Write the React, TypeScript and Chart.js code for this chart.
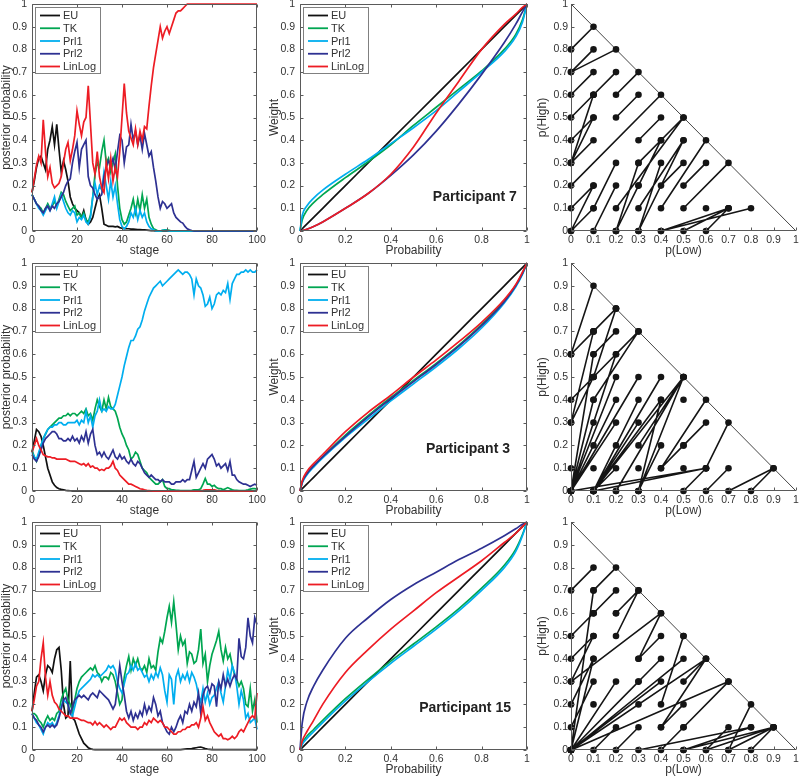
import React, { useEffect, useRef } from 'react';
import { Chart, registerables } from 'chart.js';
Chart.register(...registerables);

const FONT = "'Liberation Sans', Arial, Helvetica, sans-serif";
const TEXT = '#333333';
const AXIS = '#5a5a5a';

// ---------------- shared categories / ticks ----------------
const modelNames = ['EU', 'TK', 'Prl1', 'Prl2', 'LinLog'];
const modelColors = ['#111111', '#00a651', '#00aeef', '#2e3192', '#ed1c24'];

const stageTicks = [0, 20, 40, 60, 80, 100];
const stageTickLabels = ['0', '20', '40', '60', '80', '100'];
const probTicks = [0, 0.2, 0.4, 0.6, 0.8, 1];
const probTickLabels = ['0', '0.2', '0.4', '0.6', '0.8', '1'];
const tenthTicks = [0, 0.1, 0.2, 0.3, 0.4, 0.5, 0.6, 0.7, 0.8, 0.9, 1];
const tenthTickLabels = ['0', '0.1', '0.2', '0.3', '0.4', '0.5', '0.6', '0.7', '0.8', '0.9', '1'];

const stages = Array.from({ length: 101 }, (_, i) => i);

// ---------------- posterior probabilities (column 1) ----------------
// Participant 7
const p7EU = [
  .17, .22, .28, .32, .33, .30, .27, .36, .40, .46,
  .38, .47, .36, .26, .31, .27, .22, .15, .12, .10,
  .09, .08, .06, .09, .05, .03, .04, .06, .10, .14,
  .16, .10, .03, .025, .02, .02, .02, .018, .02, .015,
  .012, .01, .01, .01, .008, .008, .007, .006, .006, .005,
  .005, .004, .003, .002, .001, 0, 0, 0, 0, 0,
  0, 0, 0, 0, 0, 0, 0, 0, 0, 0,
  0, 0, 0, 0, 0, 0, 0, 0, 0, 0,
  0, 0, 0, 0, 0, 0, 0, 0, 0, 0,
  0, 0, 0, 0, 0, 0, 0, 0, 0, 0, 0,
];
const p7TK = [
  .16, .14, .12, .11, .10, .08, .10, .12, .10, .11,
  .13, .11, .14, .17, .16, .13, .11, .09, .10, .11,
  .07, .08, .06, .08, .05, .04, .07, .15, .25, .30,
  .28, .35, .40, .30, .32, .26, .30, .34, .20, .10,
  .05, .03, .04, .07, .10, .14, .08, .14, .09, .16,
  .10, .14, .06, .03, .01, .005, 0, 0, .003, .005,
  .005, .003, 0, 0, 0, 0, 0, 0, 0, 0,
  0, 0, 0, 0, 0, 0, 0, 0, 0, 0,
  0, 0, 0, 0, 0, 0, 0, 0, 0, 0,
  0, 0, 0, 0, 0, 0, 0, 0, 0, 0, 0,
];
const p7Prl1 = [
  .16, .14, .12, .10, .09, .07, .09, .11, .09, .12,
  .15, .10, .13, .16, .13, .10, .08, .07, .09, .08,
  .04, .06, .05, .07, .04, .03, .06, .15, .21, .16,
  .20, .18, .26, .20, .14, .22, .15, .20, .12, .05,
  .02, .01, .02, .04, .08, .06, .10, .05, .09, .06,
  .08, .04, .02, .01, .005, 0, 0, 0, .003, .003,
  .003, 0, 0, 0, 0, 0, 0, 0, 0, 0,
  0, 0, 0, 0, 0, 0, 0, 0, 0, 0,
  0, 0, 0, 0, 0, 0, 0, 0, 0, 0,
  0, 0, 0, 0, 0, 0, 0, 0, 0, 0, 0,
];
const p7Prl2 = [
  .16, .14, .12, .11, .09, .08, .10, .11, .09, .11,
  .10, .12, .13, .15, .17, .20, .22, .23, .30, .35,
  .39, .28, .36, .38, .40, .24, .20, .19, .16, .14,
  .15, .16, .24, .28, .31, .29, .32, .27, .35, .42,
  .40, .30, .37, .38, .47, .40, .44, .38, .42, .36,
  .43, .38, .33, .35, .28, .22, .15, .10, .13, .12,
  .10, .11, .12, .08, .06, .05, .04, .035, .02, .01,
  .005, .002, 0, 0, 0, 0, 0, 0, 0, 0,
  0, 0, 0, 0, 0, 0, 0, 0, 0, 0,
  0, 0, 0, 0, 0, 0, 0, 0, 0, 0, 0,
];
const p7LinLog = [
  .17, .23, .29, .33, .30, .49, .35, .24, .28, .21,
  .19, .20, .21, .24, .30, .36, .39, .31, .36, .42,
  .53, .47, .42, .48, .50, .64, .47, .30, .25, .35,
  .24, .19, .17, .30, .23, .32, .22, .28, .24, .35,
  .50, .65, .52, .44, .41, .38, .45, .38, .44, .40,
  .46, .45, .55, .64, .72, .78, .84, .90, .85, .88,
  .90, .87, .90, .93, .96, .97, .97, .98, .99, 1,
  1, 1, 1, 1, 1, 1, 1, 1, 1, 1,
  1, 1, 1, 1, 1, 1, 1, 1, 1, 1,
  1, 1, 1, 1, 1, 1, 1, 1, 1, 1, 1,
];

// Participant 3
const p3EU = [
  .17, .22, .27, .26, .24, .20, .15, .10, .07, .04,
  .025, .015, .01, .007, .005, .003, .002, .001, 0, 0,
  0, 0, 0, 0, 0, 0, 0, 0, 0, 0,
  0, 0, 0, 0, 0, 0, 0, 0, 0, 0,
  0, 0, 0, 0, 0, 0, 0, 0, 0, 0,
  0, 0, 0, 0, 0, 0, 0, 0, 0, 0,
  0, 0, 0, 0, 0, 0, 0, 0, 0, 0,
  0, 0, 0, 0, 0, 0, 0, 0, 0, 0,
  0, 0, 0, 0, 0, 0, 0, 0, 0, 0,
  0, 0, 0, 0, 0, 0, 0, 0, 0, 0, 0,
];
const p3TK = [
  .18, .15, .13, .16, .20, .23, .25, .27, .28, .29,
  .30, .31, .32, .32, .33, .33, .34, .33, .34, .34,
  .33, .34, .35, .34, .36, .33, .34, .31, .36, .40,
  .37, .35, .40, .36, .41, .37, .36, .35, .32, .28,
  .25, .23, .20, .18, .14, .15, .17, .16, .13, .10,
  .09, .08, .06, .05, .04, .03, .03, .04, .05, .02,
  .01, .01, .005, .005, .003, .003, .002, .002, .002, .002,
  .002, .003, .005, .005, .005, .01, .03, .055, .03, .03,
  .02, .025, .015, .01, .01, .005, .01, .015, .01, .005,
  .003, .003, .002, .002, .002, .003, .005, .008, .01, .01, .008,
];
const p3Prl1 = [
  .17, .15, .14, .17, .20, .23, .25, .27, .28, .28,
  .29, .29, .30, .30, .29, .29, .30, .30, .30, .30,
  .31, .29, .31, .30, .35, .30, .33, .28, .33, .35,
  .40, .35, .36, .35, .37, .36, .36, .38, .42, .46,
  .50, .55, .59, .63, .66, .66, .68, .71, .72, .75,
  .79, .82, .85, .87, .89, .90, .91, .92, .90, .91,
  .92, .93, .94, .95, .96, .97, .96, .95, .96, .96,
  .95, .93, .86, .93, .90, .89, .86, .81, .82, .85,
  .80, .82, .86, .87, .86, .88, .87, .91, .84, .91,
  .93, .95, .95, .96, .96, .97, .96, .97, .96, .96, .97,
];
const p3Prl2 = [
  .16, .14, .13, .15, .18, .21, .23, .24, .25, .26,
  .26, .25, .23, .23, .22, .22, .23, .22, .24, .22,
  .23, .21, .24, .22, .26, .21, .25, .27, .20, .16,
  .17, .15, .17, .15, .14, .16, .18, .15, .14, .16,
  .14, .15, .13, .12, .14, .12, .11, .13, .12, .10,
  .08, .07, .06, .07, .06, .05, .05, .04, .05, .04,
  .04, .04, .03, .03, .04, .04, .04, .05, .04, .05,
  .05, .09, .13, .06, .08, .10, .12, .10, .14, .15,
  .16, .14, .11, .12, .10, .11, .12, .09, .13, .07,
  .07, .05, .04, .035, .03, .03, .025, .02, .025, .03, .025,
];
const p3LinLog = [
  .17, .20, .23, .20, .18, .16, .155, .15, .15, .145,
  .145, .14, .14, .14, .14, .14, .135, .13, .13, .13,
  .125, .12, .115, .12, .11, .12, .105, .11, .10, .10,
  .09, .095, .09, .10, .10, .11, .13, .10, .09, .07,
  .06, .05, .04, .03, .03, .025, .02, .015, .01, .008,
  .005, .003, .002, .001, 0, 0, 0, 0, 0, 0,
  0, 0, 0, 0, 0, 0, 0, 0, 0, 0,
  0, 0, 0, 0, 0, .002, .003, .005, .005, .005,
  .005, .005, .003, .002, 0, 0, 0, 0, 0, 0,
  0, 0, 0, 0, 0, 0, 0, 0, 0, 0, 0,
];

// Participant 15
const p15EU = [
  .17, .25, .32, .33, .30, .26, .33, .37, .36, .34,
  .40, .44, .45, .35, .20, .14, .15, .39, .14, .13,
  .10, .07, .05, .03, .02, .01, .005, .003, .002, .002,
  .002, .002, .002, .002, .002, .002, .002, .002, .002, .002,
  .002, .002, .002, .002, .002, .002, .002, .002, .002, .002,
  .002, .002, .002, .002, .002, .002, .002, .002, .002, .002,
  .002, .002, .002, .002, .002, .002, .002, .003, .004, .005,
  .005, .006, .008, .01, .012, .013, .01, .006, .004, .003,
  .002, .002, .002, .002, .002, .002, .002, .002, .002, .002,
  .002, .002, .002, .002, .002, .002, .002, .002, .002, .002, .002,
];
const p15TK = [
  .16, .16, .15, .13, .12, .10, .13, .15, .13, .14,
  .13, .16, .17, .22, .25, .27, .22, .20, .17, .22,
  .27, .30, .32, .33, .34, .35, .36, .35, .37, .34,
  .33, .30, .32, .32, .31, .34, .33, .30, .25, .20,
  .22, .32, .37, .41, .35, .40, .37, .40, .36, .35,
  .37, .34, .40, .36, .37, .35, .43, .49, .47, .52,
  .58, .63, .56, .65, .55, .44, .50, .46, .48, .38,
  .43, .42, .38, .39, .44, .53, .38, .42, .30, .37,
  .42, .45, .48, .52, .44, .39, .45, .40, .42, .37,
  .33, .31, .28, .30, .27, .20, .19, .27, .17, .22, .12,
];
const p15Prl1 = [
  .16, .14, .12, .11, .09, .07, .10, .12, .11, .12,
  .10, .12, .15, .19, .22, .21, .20, .16, .15, .19,
  .23, .26, .27, .28, .29, .30, .31, .33, .32, .33,
  .32, .33, .34, .35, .37, .36, .37, .35, .30, .27,
  .25, .29, .33, .34, .37, .35, .38, .35, .36, .34,
  .32, .33, .30, .33, .31, .34, .32, .36, .33, .26,
  .21, .33, .31, .20, .32, .35, .30, .33, .31, .34,
  .30, .34, .32, .29, .24, .21, .27, .21, .25, .20,
  .23, .24, .27, .30, .25, .21, .28, .35, .31, .37,
  .34, .28, .20, .26, .22, .14, .16, .12, .13, .14, .09,
];
const p15Prl2 = [
  .16, .14, .13, .11, .10, .08, .10, .11, .10, .11,
  .10, .11, .14, .18, .22, .23, .20, .16, .19, .22,
  .23, .24, .23, .24, .23, .22, .24, .25, .24, .23,
  .26, .25, .24, .23, .22, .20, .18, .20, .28, .37,
  .30, .24, .17, .14, .17, .13, .16, .14, .17, .15,
  .20, .16, .19, .17, .23, .20, .15, .17, .12, .10,
  .08, .07, .10, .08, .10, .13, .15, .12, .17, .16,
  .20, .17, .21, .19, .25, .16, .24, .27, .28, .25,
  .29, .28, .19, .30, .27, .33, .28, .31, .28, .31,
  .33, .31, .49, .41, .40, .45, .58, .50, .47, .58, .55,
];
const p15LinLog = [
  .17, .22, .28, .30, .40, .47, .32, .24, .30, .24,
  .21, .20, .18, .17, .16, .15, .15, .14, .14, .14,
  .14, .135, .13, .13, .125, .12, .12, .11, .125, .11,
  .12, .11, .10, .11, .10, .09, .10, .10, .12, .14,
  .13, .14, .12, .11, .10, .10, .10, .09, .10, .10,
  .12, .11, .13, .12, .14, .13, .12, .13, .12, .10,
  .10, .09, .08, .07, .07, .08, .08, .09, .09, .10,
  .10, .11, .11, .12, .10, .14, .19, .13, .15, .12,
  .10, .08, .07, .06, .07, .05, .05, .045, .05, .06,
  .05, .06, .08, .09, .08, .10, .12, .14, .15, .14, .25,
];

// ---------------- weighting functions (column 2) ----------------
const probs = [0, 0.01, 0.03, 0.06, 0.1, 0.2, 0.3, 0.4, 0.5, 0.6, 0.7, 0.8, 0.9, 0.95, 0.98, 1];
const euWeight = [0, 0.01, 0.03, 0.06, 0.1, 0.2, 0.3, 0.4, 0.5, 0.6, 0.7, 0.8, 0.9, 0.95, 0.98, 1];

const w7TK = [0, 0.05, 0.09, 0.125, 0.16, 0.235, 0.305, 0.38, 0.465, 0.545, 0.625, 0.705, 0.80, 0.865, 0.93, 1];
const w7Prl1 = [0, 0.07, 0.11, 0.145, 0.18, 0.25, 0.315, 0.385, 0.455, 0.53, 0.615, 0.70, 0.79, 0.855, 0.92, 1];
const w7Prl2 = [0, 0.002, 0.008, 0.02, 0.04, 0.10, 0.165, 0.245, 0.335, 0.44, 0.56, 0.69, 0.83, 0.91, 0.965, 1];
const w7LinLog = [0, 0.002, 0.008, 0.02, 0.04, 0.10, 0.165, 0.25, 0.37, 0.52, 0.66, 0.80, 0.91, 0.955, 0.985, 1];

const w3TK = [0, 0.04, 0.075, 0.11, 0.15, 0.245, 0.33, 0.41, 0.485, 0.56, 0.64, 0.73, 0.835, 0.9, 0.955, 1];
const w3Prl1 = [0, 0.035, 0.07, 0.105, 0.145, 0.235, 0.315, 0.395, 0.47, 0.545, 0.625, 0.715, 0.825, 0.895, 0.95, 1];
const w3Prl2 = [0, 0.04, 0.075, 0.11, 0.15, 0.24, 0.325, 0.405, 0.48, 0.555, 0.635, 0.725, 0.83, 0.9, 0.955, 1];
const w3LinLog = [0, 0.045, 0.085, 0.12, 0.16, 0.26, 0.345, 0.42, 0.50, 0.575, 0.655, 0.74, 0.84, 0.905, 0.96, 1];

const w15TK = [0, 0.03, 0.06, 0.09, 0.13, 0.225, 0.31, 0.39, 0.465, 0.54, 0.62, 0.71, 0.81, 0.88, 0.945, 1];
const w15Prl1 = [0, 0.025, 0.05, 0.08, 0.12, 0.215, 0.30, 0.38, 0.455, 0.53, 0.61, 0.70, 0.80, 0.87, 0.94, 1];
const w15Prl2 = [0, 0.12, 0.21, 0.28, 0.35, 0.49, 0.58, 0.66, 0.725, 0.78, 0.835, 0.885, 0.94, 0.97, 0.99, 1];
const w15LinLog = [0, 0.04, 0.08, 0.13, 0.2, 0.34, 0.44, 0.53, 0.61, 0.69, 0.76, 0.83, 0.91, 0.95, 0.98, 1];

// ---------------- choice pairs (column 3): [pLow1, pHigh1, pLow2, pHigh2] ----------------
const triangleEdgeLow = [0, 1];
const triangleEdgeHigh = [1, 0];

const p7Pairs = [
  [0, 0.8, 0.1, 0.9], [0, 0.7, 0.2, 0.8], [0, 0.7, 0.1, 0.8], [0, 0.6, 0.1, 0.7],
  [0.1, 0.6, 0.2, 0.7], [0.2, 0.6, 0.3, 0.7], [0, 0.5, 0.1, 0.6], [0, 0.3, 0.1, 0.6],
  [0, 0.3, 0.1, 0.5], [0, 0.4, 0.1, 0.5], [0, 0.3, 0.1, 0.4], [0.2, 0.5, 0.3, 0.6],
  [0, 0.2, 0.4, 0.6], [0, 0.1, 0.1, 0.2], [0, 0, 0.1, 0.2], [0, 0, 0.1, 0.1],
  [0.1, 0, 0.2, 0.2], [0.1, 0.1, 0.2, 0.3], [0.2, 0, 0.3, 0.2], [0.2, 0, 0.4, 0.4],
  [0.2, 0, 0.3, 0.3], [0.2, 0.1, 0.5, 0.5], [0.3, 0.3, 0.5, 0.5], [0.3, 0.4, 0.4, 0.5],
  [0.3, 0, 0.4, 0.3], [0.3, 0, 0.5, 0.4], [0.3, 0.1, 0.5, 0.4], [0.3, 0.2, 0.4, 0.4],
  [0.4, 0.2, 0.5, 0.3], [0.4, 0.1, 0.6, 0.4], [0.5, 0.2, 0.6, 0.3], [0.5, 0.1, 0.7, 0.3],
  [0.4, 0, 0.8, 0.1], [0.4, 0, 0.7, 0.1], [0.5, 0, 0.7, 0.1], [0.6, 0, 0.7, 0.1],
];
const p7Singles = [[0.6, 0.1]];

const p3Pairs = [
  [0, 0.6, 0.1, 0.9], [0, 0.6, 0.2, 0.8], [0, 0.6, 0.1, 0.7], [0.1, 0.7, 0.2, 0.8],
  [0, 0.3, 0.1, 0.7], [0.1, 0.5, 0.2, 0.8], [0.1, 0.6, 0.2, 0.7], [0.1, 0.5, 0.3, 0.7],
  [0.1, 0.4, 0.3, 0.7], [0, 0.4, 0.2, 0.6], [0, 0.3, 0.1, 0.5], [0, 0, 0.1, 0.4],
  [0, 0, 0.1, 0.3], [0, 0, 0.1, 0.2], [0, 0, 0.2, 0.5], [0, 0, 0.2, 0.4],
  [0, 0, 0.2, 0.3], [0, 0, 0.2, 0.6], [0, 0, 0.1, 0.6], [0, 0, 0.3, 0.5],
  [0, 0, 0.6, 0.1], [0.1, 0, 0.6, 0.1], [0.1, 0, 0.5, 0.5], [0.1, 0, 0.4, 0.4],
  [0.1, 0, 0.3, 0.4], [0.1, 0, 0.4, 0.5], [0.1, 0, 0.2, 0.2], [0.1, 0, 0.3, 0.3],
  [0.1, 0, 0.2, 0.1], [0.2, 0, 0.5, 0.5], [0.3, 0, 0.5, 0.5], [0.3, 0, 0.4, 0.4],
  [0.3, 0.2, 0.5, 0.5], [0.3, 0, 0.4, 0.2], [0.4, 0.1, 0.6, 0.4], [0.4, 0.1, 0.5, 0.2],
  [0.5, 0.2, 0.6, 0.3], [0.5, 0, 0.6, 0.1], [0.6, 0.1, 0.7, 0.3], [0.6, 0, 0.7, 0.1],
  [0.7, 0, 0.9, 0.1], [0.8, 0, 0.9, 0.1],
];
const p3Singles = [[0, 0.1], [0.1, 0.1], [0.3, 0.1], [0.5, 0.1], [0.5, 0.4], [0.2, 0]];

const p15Pairs = [
  [0, 0.7, 0.1, 0.8], [0.1, 0.7, 0.2, 0.8], [0, 0, 0.1, 0.7], [0, 0.5, 0.1, 0.6],
  [0.1, 0.6, 0.2, 0.7], [0.2, 0.6, 0.3, 0.7], [0.2, 0.5, 0.3, 0.7], [0, 0.4, 0.1, 0.5],
  [0, 0.3, 0.1, 0.5], [0, 0.3, 0.4, 0.6], [0, 0.2, 0.1, 0.4], [0, 0.1, 0.1, 0.3],
  [0, 0, 0.1, 0.4], [0, 0, 0.2, 0.3], [0, 0, 0.3, 0.3], [0, 0, 0.4, 0.4],
  [0, 0, 0.5, 0.4], [0, 0, 0.6, 0.4], [0, 0, 0.4, 0.3], [0, 0, 0.7, 0.3],
  [0, 0, 0.3, 0.2], [0.1, 0, 0.2, 0.1], [0.2, 0, 0.3, 0.1], [0.3, 0.4, 0.4, 0.6],
  [0.3, 0.4, 0.4, 0.5], [0.4, 0.2, 0.5, 0.5], [0.4, 0.1, 0.6, 0.4], [0.5, 0.3, 0.6, 0.4],
  [0.4, 0.1, 0.5, 0.2], [0.4, 0, 0.5, 0.1], [0.3, 0, 0.8, 0.1], [0.5, 0, 0.8, 0.1],
  [0.5, 0, 0.9, 0.1], [0.6, 0, 0.9, 0.1], [0.7, 0, 0.8, 0.2], [0.6, 0, 0.7, 0.1],
  [0.8, 0, 0.9, 0.1], [0.7, 0, 0.9, 0.1], [0.5, 0.1, 0.7, 0.3],
];
const p15Singles = [[0.1, 0.6], [0.2, 0.6], [0.3, 0.3], [0.1, 0.2], [0.5, 0.5]];

// ---------------- layout ----------------
const COLS = [
  { plotLeft: 32, plotW: 225, yW: 32, padR: 12 },
  { plotLeft: 300, plotW: 227, yW: 32, padR: 10 },
  { plotLeft: 571, plotW: 226, yW: 35, padR: 3 },
];
const ROWS = [
  { plotTop: 4, plotH: 227 },
  { plotTop: 263, plotH: 228 },
  { plotTop: 522, plotH: 228 },
];
const PAD_T = 6;
const X_H = 28;

type PanelCfg = {
  row: number;
  col: number;
  kind: 'series' | 'weight' | 'triangle';
  series?: number[][];
  pairs?: number[][];
  singles?: number[][];
  note?: { text: string; x: number; y: number };
};

function geom(row: number, col: number) {
  const c = COLS[col];
  const r = ROWS[row];
  return {
    left: c.plotLeft - c.yW,
    top: r.plotTop - PAD_T,
    w: c.yW + c.plotW + c.padR,
    h: PAD_T + r.plotH + X_H,
    yW: c.yW,
    padR: c.padR,
  };
}

function decorPlugin(cfg: PanelCfg, xTicks: number[], yTicks: number[]) {
  return {
    id: 'decor',
    afterDatasetsDraw(chart: any) {
      const { ctx, chartArea: a, scales } = chart;
      const xs = scales.x;
      const ys = scales.y;
      ctx.save();
      ctx.strokeStyle = AXIS;
      ctx.lineWidth = 1;
      const L = Math.round(a.left) + 0.5;
      const R = Math.round(a.right) - 0.5;
      const T = Math.round(a.top) + 0.5;
      const B = Math.round(a.bottom) - 0.5;
      const tl = 3;
      ctx.beginPath();
      if (cfg.kind === 'triangle') {
        ctx.moveTo(L, T);
        ctx.lineTo(L, B);
        ctx.lineTo(R, B);
        xTicks.forEach((v) => {
          const px = Math.round(xs.getPixelForValue(v)) + 0.5;
          ctx.moveTo(px, B);
          ctx.lineTo(px, B - tl);
        });
        yTicks.forEach((v) => {
          const py = Math.round(ys.getPixelForValue(v)) + 0.5;
          ctx.moveTo(L, py);
          ctx.lineTo(L + tl, py);
        });
      } else {
        ctx.rect(L, T, R - L, B - T);
        xTicks.forEach((v) => {
          const px = Math.round(xs.getPixelForValue(v)) + 0.5;
          ctx.moveTo(px, B);
          ctx.lineTo(px, B - tl);
          ctx.moveTo(px, T);
          ctx.lineTo(px, T + tl);
        });
        yTicks.forEach((v) => {
          const py = Math.round(ys.getPixelForValue(v)) + 0.5;
          ctx.moveTo(L, py);
          ctx.lineTo(L + tl, py);
          ctx.moveTo(R, py);
          ctx.lineTo(R - tl, py);
        });
      }
      ctx.stroke();

      if (cfg.kind !== 'triangle') {
        // legend box
        const bx = Math.round(a.left) + 3;
        const by = Math.round(a.top) + 3;
        ctx.fillStyle = '#ffffff';
        ctx.fillRect(bx, by, 65, 66);
        ctx.strokeStyle = '#808080';
        ctx.lineWidth = 1;
        ctx.strokeRect(bx + 0.5, by + 0.5, 65, 66);
        ctx.font = `11px ${FONT}`;
        ctx.textBaseline = 'middle';
        ctx.textAlign = 'left';
        modelNames.forEach((n, i) => {
          const y = by + 8.5 + i * 12.75;
          ctx.strokeStyle = modelColors[i];
          ctx.lineWidth = 1.8;
          ctx.beginPath();
          ctx.moveTo(bx + 5, y);
          ctx.lineTo(bx + 25, y);
          ctx.stroke();
          ctx.fillStyle = TEXT;
          ctx.fillText(n, bx + 28, y + 0.5);
        });
      }
      if (cfg.note) {
        ctx.font = `bold 14px ${FONT}`;
        ctx.fillStyle = '#222222';
        ctx.textBaseline = 'middle';
        ctx.textAlign = 'left';
        ctx.fillText(cfg.note.text, xs.getPixelForValue(cfg.note.x), ys.getPixelForValue(cfg.note.y));
      }
      ctx.restore();
    },
  };
}

function buildConfig(cfg: PanelCfg) {
  const g = geom(cfg.row, cfg.col);
  let datasets: any[] = [];
  let xTicks = tenthTicks;
  let xLabels = tenthTickLabels;
  let xMax = 1;
  let xTitle = 'p(Low)';
  let yTitle = 'p(High)';

  if (cfg.kind === 'series') {
    xTicks = stageTicks;
    xLabels = stageTickLabels;
    xMax = 100;
    xTitle = 'stage';
    yTitle = 'posterior probability';
    datasets = (cfg.series || []).map((vals, i) => ({
      label: modelNames[i],
      data: stages.map((s, k) => ({ x: s, y: vals[k] })),
      borderColor: modelColors[i],
      borderWidth: 1.7,
      pointRadius: 0,
      tension: 0,
      fill: false,
      clip: false,
      order: modelNames.length - i,
    }));
  } else if (cfg.kind === 'weight') {
    xTicks = probTicks;
    xLabels = probTickLabels;
    xTitle = 'Probability';
    yTitle = 'Weight';
    datasets = (cfg.series || []).map((vals, i) => ({
      label: modelNames[i],
      data: probs.map((p, k) => ({ x: p, y: vals[k] })),
      borderColor: modelColors[i],
      borderWidth: 1.7,
      pointRadius: 0,
      cubicInterpolationMode: 'monotone',
      fill: false,
      clip: false,
      order: modelNames.length - i,
    }));
  } else {
    const pts: any[] = [];
    (cfg.pairs || []).forEach(([x1, y1, x2, y2]) => {
      pts.push({ x: x1, y: y1 }, { x: x2, y: y2 }, { x: x2, y: null });
    });
    datasets = [
      {
        label: 'edge',
        data: triangleEdgeLow.map((x, k) => ({ x, y: triangleEdgeHigh[k] })),
        borderColor: '#444444',
        borderWidth: 1,
        pointRadius: 0,
        clip: false,
        order: 3,
      },
      {
        label: 'pairs',
        data: pts,
        borderColor: '#151515',
        borderWidth: 1.6,
        pointRadius: 3.3,
        pointBorderWidth: 0,
        pointBackgroundColor: '#151515',
        spanGaps: false,
        tension: 0,
        clip: false,
        order: 2,
      },
      {
        label: 'singles',
        data: (cfg.singles || []).map(([x, y]) => ({ x, y })),
        showLine: false,
        borderColor: '#151515',
        pointRadius: 3.3,
        pointBorderWidth: 0,
        pointBackgroundColor: '#151515',
        clip: false,
        order: 1,
      },
    ];
  }

  const tickFont = { family: FONT, size: 10.5 };
  const titleFont = { family: FONT, size: 12, lineHeight: 1 };

  return {
    type: 'line',
    data: { datasets },
    plugins: [decorPlugin(cfg, xTicks, tenthTicks)],
    options: {
      responsive: false,
      maintainAspectRatio: false,
      animation: false,
      events: [],
      devicePixelRatio: 1,
      layout: { padding: { top: PAD_T, right: g.padR, left: 0, bottom: 0 } },
      plugins: { legend: { display: false }, tooltip: { enabled: false }, title: { display: false } },
      scales: {
        x: {
          type: 'linear',
          min: 0,
          max: xMax,
          afterBuildTicks: (s: any) => {
            s.ticks = xTicks.map((v) => ({ value: v }));
          },
          afterFit: (s: any) => {
            s.height = X_H;
            s.paddingLeft = 0;
            s.paddingRight = 0;
          },
          ticks: {
            callback: (_v: any, i: number) => xLabels[i],
            font: tickFont,
            color: TEXT,
            padding: 3,
            autoSkip: false,
            maxRotation: 0,
            minRotation: 0,
          },
          grid: { display: false, drawTicks: false },
          border: { display: false },
          title: { display: true, text: xTitle, font: titleFont, color: TEXT, padding: { top: 0, bottom: 2 } },
        },
        y: {
          type: 'linear',
          min: 0,
          max: 1,
          afterBuildTicks: (s: any) => {
            s.ticks = tenthTicks.map((v) => ({ value: v }));
          },
          afterFit: (s: any) => {
            s.width = g.yW;
            s.paddingTop = 0;
            s.paddingBottom = 0;
          },
          ticks: {
            callback: (_v: any, i: number) => tenthTickLabels[i],
            font: tickFont,
            color: TEXT,
            padding: cfg.kind === 'triangle' ? 3 : 5,
            autoSkip: false,
          },
          grid: { display: false, drawTicks: false },
          border: { display: false },
          title: { display: true, text: yTitle, font: titleFont, color: TEXT, padding: { top: 1, bottom: 0 } },
        },
      },
    },
  } as any;
}

function Panel({ cfg }: { cfg: PanelCfg }) {
  const ref = useRef<HTMLCanvasElement>(null);
  useEffect(() => {
    const chart = new Chart(ref.current as HTMLCanvasElement, buildConfig(cfg));
    return () => chart.destroy();
  }, []);
  const g = geom(cfg.row, cfg.col);
  return (
    <canvas
      ref={ref}
      width={g.w}
      height={g.h}
      style={{ position: 'absolute', left: g.left, top: g.top, width: g.w, height: g.h }}
    />
  );
}

const panels: PanelCfg[] = [
  { row: 0, col: 0, kind: 'series', series: [p7EU, p7TK, p7Prl1, p7Prl2, p7LinLog] },
  { row: 0, col: 1, kind: 'weight', series: [euWeight, w7TK, w7Prl1, w7Prl2, w7LinLog], note: { text: 'Participant 7', x: 0.585, y: 0.147 } },
  { row: 0, col: 2, kind: 'triangle', pairs: p7Pairs, singles: p7Singles },
  { row: 1, col: 0, kind: 'series', series: [p3EU, p3TK, p3Prl1, p3Prl2, p3LinLog] },
  { row: 1, col: 1, kind: 'weight', series: [euWeight, w3TK, w3Prl1, w3Prl2, w3LinLog], note: { text: 'Participant 3', x: 0.555, y: 0.182 } },
  { row: 1, col: 2, kind: 'triangle', pairs: p3Pairs, singles: p3Singles },
  { row: 2, col: 0, kind: 'series', series: [p15EU, p15TK, p15Prl1, p15Prl2, p15LinLog] },
  { row: 2, col: 1, kind: 'weight', series: [euWeight, w15TK, w15Prl1, w15Prl2, w15LinLog], note: { text: 'Participant 15', x: 0.525, y: 0.184 } },
  { row: 2, col: 2, kind: 'triangle', pairs: p15Pairs, singles: p15Singles },
];

export default function App() {
  return (
    <div style={{ position: 'absolute', left: 0, top: 0, width: 800, height: 778, overflow: 'hidden', background: '#ffffff' }}>
      {panels.map((p, i) => (
        <Panel key={i} cfg={p} />
      ))}
    </div>
  );
}
